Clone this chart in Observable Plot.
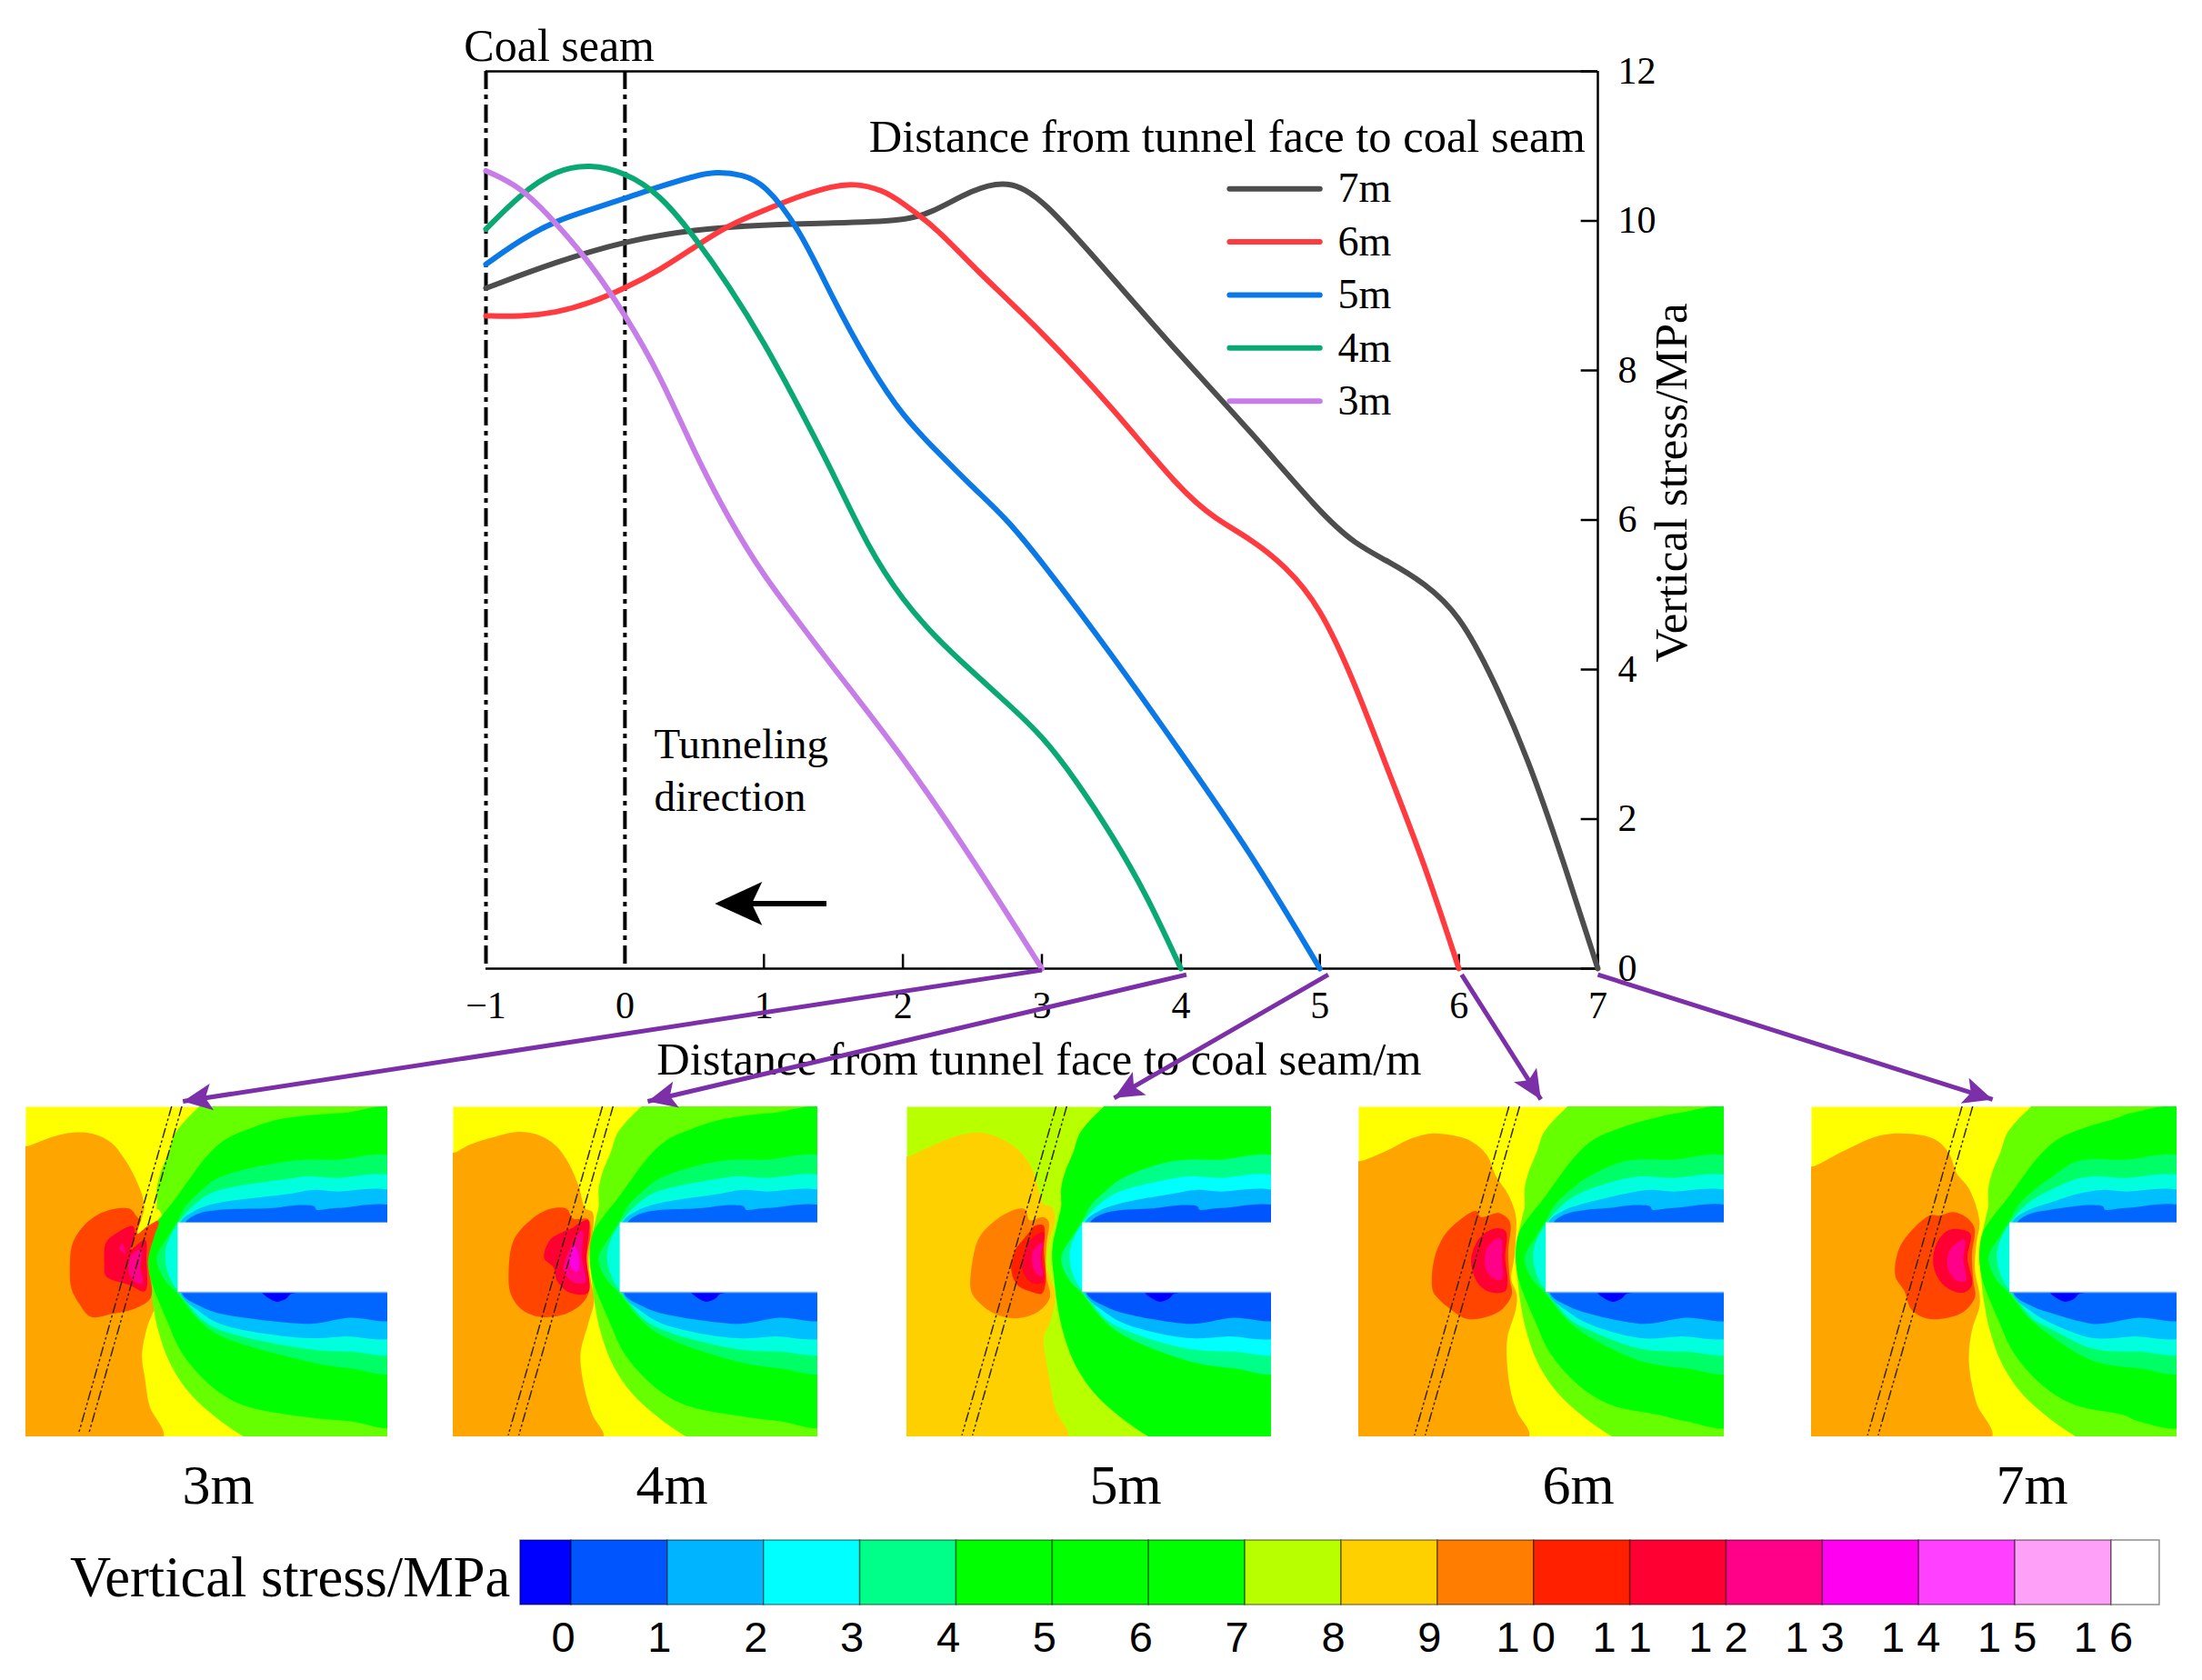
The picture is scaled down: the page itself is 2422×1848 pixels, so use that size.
<!DOCTYPE html>
<html>
<head>
<meta charset="utf-8">
<script src="https://cdn.jsdelivr.net/npm/d3@7"></script>
<script src="https://cdn.jsdelivr.net/npm/@observablehq/plot@0.6"></script>
<style>
  html, body { margin: 0; padding: 0; background: #fff; }
  #page { position: relative; width: 2422px; height: 1848px; overflow: hidden; }
  #page svg { position: absolute; max-width: none; }
  .lab { position: absolute; font-family: "Liberation Serif", serif; color: #000; white-space: nowrap; line-height: 1; }
</style>
</head>
<body>
<div id="page"></div>
<script>
// ---------- line chart values ----------
const seriesNames = ["7m", "6m", "5m", "4m", "3m"];
const seriesColors = ["#4d4d4d", "#ff3b40", "#0a78e6", "#0aa873", "#c77de8"];

const x7 = [-1, -0.5, 0, 0.5, 1, 1.5, 2, 2.2, 2.5, 2.75, 3, 3.5, 4, 4.5, 5, 5.25, 5.5, 5.75, 6, 6.25, 6.5, 6.75, 7];
const y7 = [9.1, 9.45, 9.73, 9.89, 9.95, 9.97, 10.0, 10.1, 10.42, 10.55, 10.32, 9.25, 8.19, 7.19, 6.1, 5.68, 5.44, 5.16, 4.75, 3.87, 2.8, 1.45, 0];
const x6 = [-1, -0.75, -0.5, -0.25, 0, 0.25, 0.5, 0.75, 1, 1.25, 1.5, 1.65, 1.85, 2, 2.25, 2.5, 3, 3.5, 4, 4.25, 4.5, 4.75, 5, 5.25, 5.5, 5.75, 6];
const y6 = [8.73, 8.72, 8.77, 8.9, 9.1, 9.34, 9.65, 9.95, 10.14, 10.33, 10.47, 10.5, 10.42, 10.24, 9.89, 9.39, 8.52, 7.52, 6.39, 6.01, 5.75, 5.39, 4.85, 3.83, 2.6, 1.42, 0];
const x5 = [-1, -0.75, -0.5, -0.25, 0, 0.25, 0.5, 0.65, 0.85, 1, 1.25, 1.5, 1.75, 2, 2.25, 2.5, 2.75, 3, 3.5, 4, 4.5, 5];
const y5 = [9.42, 9.75, 10.0, 10.15, 10.3, 10.46, 10.6, 10.66, 10.62, 10.5, 9.92, 8.94, 8.09, 7.38, 6.91, 6.44, 6.01, 5.44, 4.21, 2.89, 1.56, 0];
const x4 = [-1, -0.75, -0.5, -0.25, 0, 0.25, 0.5, 0.75, 1, 1.25, 1.5, 1.75, 2, 2.25, 2.5, 2.75, 3, 3.25, 3.5, 3.75, 4];
const y4 = [9.89, 10.36, 10.68, 10.76, 10.65, 10.36, 9.79, 9.13, 8.38, 7.52, 6.62, 5.63, 4.92, 4.4, 3.97, 3.55, 3.12, 2.51, 1.8, 1.0, 0];
const x3 = [-1, -0.75, -0.5, -0.25, 0, 0.25, 0.5, 0.75, 1, 1.25, 1.5, 2, 2.5, 3];
const y3 = [10.67, 10.46, 9.98, 9.44, 8.75, 7.95, 6.9, 6.0, 5.25, 4.64, 4.02, 2.84, 1.47, 0];

const xTicks = [-1, 0, 1, 2, 3, 4, 5, 6, 7];
const xTickLabels = ["−1", "0", "1", "2", "3", "4", "5", "6", "7"];
const yTicks = [0, 2, 4, 6, 8, 10, 12];
const seamLines = [-1, 0];

const legendX = [4.35, 5.0];
const legendY = [10.43, 9.72, 9.01, 8.30, 7.59];
const legendLabelX = 5.13;

// arrows from the axis to the contour panels, in chart units
const arrowFromX = [3.0, 4.04, 5.06, 6.02, 7.0];
const arrowFromY = [-0.02, -0.08, -0.08, -0.08, -0.08];
const arrowToX = [-3.18, 0.164, 3.52, 6.59, 9.84];
const arrowToY = [-1.775, -1.775, -1.73, -1.75, -1.75];

// ---------- contour panel values (read in crop pixels of each panel) ----------
// Tunnel-face contours, same shape in every panel, carried along with the tunnel end.
const limeNear = [[660,5],[645,20],[600,65],[565,110],[545,170],[520,230],[505,290],[505,350],[497,385],[480,470],[478,540],[485,620],[490,660],[510,760],[545,860],[600,950],[680,1030],[795,1112],[850,1135]];
const limeFarTop = [[1270,5]];
const limeFarBottom = [[1270,1135]];

const greenFarTop = [[1270,38],[1080,40]];
const greenNear = [[920,60],[820,90],[730,130],[670,185],[620,250],[570,320],[515,390],[485,440],[475,520],[485,590],[510,660],[540,730],[580,820],[640,900],[720,970],[800,1010],[950,1040]];
const greenFarBottom = [[1100,1060],[1270,1068]];

const springFarTop = [[1270,200],[1050,195],[900,200]];
const springNear = [[710,255],[650,300],[600,350],[576,395],[545,445],[505,520],[530,590],[576,640],[630,710],[700,770]];
const springFarBottom = [[950,860],[1100,885],[1270,890]];

const cyanFarTop = [[1270,265],[1050,255],[960,250],[900,258]];
const cyanNear = [[700,300],[640,335],[595,380],[560,430],[535,490],[535,540],[555,600],[590,645],[650,720],[720,760]];
const cyanFarBottom = [[950,820],[1100,830],[1270,825]];

const skyFarTop = [[1270,315],[1050,300],[980,295],[900,308]];
const skyNear = [[700,340],[630,365],[585,400],[578,520],[585,640],[650,700],[720,740]];
const skyFarBottom = [[950,785],[1080,780],[1270,770]];

const blueFarTop = [[1270,362],[1060,355],[990,360],[985,350],[950,345],[900,348],[850,355]];
const blueNear = [[700,362],[640,375],[600,404],[590,520],[590,640],[650,680],[720,705]];
const blueFarBottom = [[950,738],[1000,735],[1100,718],[1270,715]];

const deepBlue = [[810,632],[835,655],[860,665],[890,655],[905,640],[940,632]];

// Panel-specific contours
const orange3 = [[84,180],[130,165],[170,150],[240,135],[310,140],[370,170],[410,220],[440,270],[470,340],[485,395],[525,395],[535,420],[515,450],[505,550],[505,620],[520,680],[515,710],[490,770],[470,870],[480,950],[495,1040],[540,1145],[70,1160],[70,170]];
const flame3 = [[230,590],[240,500],[290,430],[350,395],[430,388],[460,420],[500,425],[525,430],[510,480],[490,560],[500,680],[440,720],[370,735],[300,745],[260,700],[235,650]];
const red3 = [[345,570],[350,500],[390,465],[440,445],[445,490],[430,525],[480,490],[485,560],[480,660],[430,640],[350,610]];
const pink3 = [[425,590],[435,540],[468,522],[465,580],[472,635],[440,625]];
const spot3 = [[395,520],[405,503],[415,535]];
const strip3 = [[490,340],[475,400],[455,470],[488,445],[520,425],[535,410],[522,388],[510,390],[515,340]];
const seam3 = [[[568,50],[258,1135]], [[602,50],[292,1135]]];

const orange4 = [[25,172],[80,145],[160,120],[240,103],[310,115],[365,150],[405,205],[440,285],[460,355],[485,370],[485,440],[472,520],[480,600],[490,660],[470,740],[445,840],[460,960],[485,1040],[520,1116],[10,1130],[10,165]];
const flame4 = [[208,560],[225,460],[280,395],[345,358],[400,358],[420,390],[470,392],[478,440],[465,520],[470,640],[440,680],[380,710],[310,715],[250,690],[215,640]];
const red4 = [[325,520],[345,460],[385,435],[420,420],[450,400],[470,395],[465,520],[470,635],[410,635],[370,600],[355,550]];
const pink4 = [[390,560],[410,490],[450,430],[450,520],[460,600],[420,600]];
const magenta4 = [[408,530],[425,480],[440,520],[435,565],[420,560]];
const seam4 = [[[517,20],[207,1105]], [[552,20],[242,1105]]];

const orange5 = [[20,185],[100,150],[190,115],[260,105],[330,125],[390,165],[430,220],[450,280],[470,340],[500,355],[508,400],[490,460],[480,540],[495,590],[510,640],[490,740],[472,780],[490,920],[510,1020],[550,1116],[5,1130],[5,180]];
const flame5 = [[232,630],[235,540],[260,450],[320,390],[385,358],[410,360],[425,395],[470,385],[488,400],[480,480],[480,580],[492,650],[450,700],[380,720],[310,705],[260,670]];
const red5 = [[365,565],[375,500],[420,440],[440,415],[470,412],[472,500],[478,600],[465,638],[425,630],[385,610]];
const pink5 = [[400,540],[420,470],[470,435],[465,520],[470,600],[440,605],[410,580]];
const magenta5 = [[432,520],[445,485],[468,470],[462,520],[468,580],[445,570]];
const seam5 = [[[512,20],[202,1105]], [[547,20],[237,1105]]];

const orange6 = [[28,200],[120,165],[200,125],[270,108],[340,115],[400,135],[450,180],[480,250],[520,310],[545,380],[545,450],[540,520],[530,590],[548,640],[545,690],[518,780],[515,850],[530,970],[550,1030],[588,1112],[12,1125],[12,195]];
const flame6 = [[272,630],[275,530],[310,445],[360,395],[415,365],[430,385],[490,372],[525,400],[520,500],[525,590],[532,640],[500,690],[450,715],[385,722],[330,690],[290,655]];
const red6 = [[398,540],[410,480],[440,440],[480,422],[512,432],[510,520],[518,600],[510,630],[470,635],[425,610]];
const pink6 = [[442,525],[455,480],[490,455],[498,460],[500,530],[500,590],[475,590],[450,565]];
const seam6 = [[[522,20],[212,1105]], [[557,20],[247,1105]]];

const orange7 = [[22,218],[120,170],[230,120],[300,108],[390,115],[440,135],[475,175],[500,240],[540,290],[575,400],[565,470],[560,560],[575,640],[575,680],[550,760],[540,860],[565,1000],[615,1114],[5,1130],[5,212]];
const flame7 = [[298,580],[310,490],[360,420],[415,378],[440,380],[490,368],[530,385],[558,420],[550,510],[555,600],[560,650],[520,700],[460,720],[400,720],[350,690],[328,630]];
const red7 = [[422,530],[435,470],[470,430],[510,425],[545,440],[535,520],[550,610],[520,635],[470,620],[435,580]];
const pink7 = [[468,535],[480,490],[525,460],[522,530],[530,595],[500,595],[475,565]];
const seam7 = [[[517,20],[207,1105]], [[552,20],[242,1105]]];

const panelLabels = ["3m", "4m", "5m", "6m", "7m"];

// ---------- colour bar values ----------
const barEdges = [-0.53, 0, 1, 2, 3, 4, 5, 6, 7, 8, 9, 10, 11, 12, 13, 14, 15, 16, 16.5];
const barColors = ["#0000ff", "#0055ff", "#00b4ff", "#00ffff", "#00ff88", "#00ff00", "#00ff00", "#00ff00", "#b8ff00", "#ffd000", "#ff7d00", "#ff2000", "#ff0033", "#ff0088", "#ff00f0", "#ff40ff", "#ffa0f8", "#ffffff"];
const barTicks = [0, 1, 2, 3, 4, 5, 6, 7, 8, 9, 10, 11, 12, 13, 14, 15, 16];
const barTickLabels = ["0", "1", "2", "3", "4", "5", "6", "7", "8", "9", "1 0", "1 1", "1 2", "1 3", "1 4", "1 5", "1 6"];

// ---------- layout and styles ----------
const page = document.getElementById("page");
const serif = "Liberation Serif";
const sans = "Liberation Sans";
const purple = "#7b2fa8";

const frame = {left: 534, right: 1757, top: 78, bottom: 1065};
const pxPerX = (frame.right - frame.left) / 8;
const pxPerY = (frame.bottom - frame.top) / 12;

const paletteNormal = {base: "#ffff00", lime: "#66ff00", green: "#00ff00", spring: "#00ff66", cyan: "#00ffdd", sky: "#00bfff", blue: "#0066ff", deep: "#0000ff",
  orange: "#ffa500", flame: "#ff4500", red: "#ff0033", pink: "#ff0088", hot: "#ff00e0"};
const paletteFive = {base: "#b8ff00", lime: "#00ff00", green: "#00ff00", spring: "#00ff88", cyan: "#00ffff", sky: "#00b4ff", blue: "#0055ff", deep: "#0000ff",
  orange: "#ffd000", flame: "#ff8000", red: "#ff2000", pink: "#ff0033", hot: "#ff0088"};

const panels = [
  {left: 28, top: 1217, w: 398, h: 363, ox: 84, oy: 50, hole: 506, palette: paletteNormal, shapes: [[orange3, "orange"], [flame3, "flame"], [strip3, "base"], [red3, "red"], [pink3, "pink"], [spot3, "pink"]], seam: seam3},
  {left: 498, top: 1217, w: 401, h: 363, ox: 25, oy: 20, hole: 551, palette: paletteNormal, shapes: [[orange4, "orange"], [flame4, "flame"], [red4, "red"], [pink4, "pink"], [magenta4, "hot"]], seam: seam4},
  {left: 997, top: 1217, w: 401, h: 363, ox: 20, oy: 20, hole: 580, palette: paletteFive, shapes: [[orange5, "orange"], [flame5, "flame"], [red5, "red"], [pink5, "pink"], [magenta5, "hot"]], seam: seam5},
  {left: 1494, top: 1217, w: 402, h: 363, ox: 28, oy: 20, hole: 617, palette: paletteNormal, shapes: [[orange6, "orange"], [flame6, "flame"], [red6, "red"], [pink6, "pink"]], seam: seam6},
  {left: 1992, top: 1217, w: 402, h: 363, ox: 22, oy: 20, hole: 653, palette: paletteNormal, shapes: [[orange7, "orange"], [flame7, "flame"], [red7, "red"], [pink7, "pink"]], seam: seam7}
];
const panelLabelX = [240, 739, 1238, 1736, 2235];

// ---------- contour panels ----------
const baseOx = 25, baseOy = 20, baseHole = 576;
const shift = (pts, dx, dy) => pts.map(([a, b]) => [a + dx, b + dy]);
const fillShape = (pts, color) => Plot.line(pts, {x: d => d[0], y: d => d[1], fill: color, stroke: "none", curve: "catmull-rom-closed", clip: true});

panels.forEach((p, i) => {
  const near = pts => shift(pts, p.hole - baseHole, -baseOy);
  const far = pts => shift(pts, -baseOx, -baseOy);
  const band = (top, mid, bottom) => [...far(top), ...near(mid), ...far(bottom)];
  const c = p.palette;
  const marks = [
    Plot.frame({fill: c.base, stroke: "none"}),
    ...p.shapes.filter(s => s[1] === "orange").map(s => fillShape(shift(s[0], -p.ox, -p.oy), c.orange)),
    fillShape(band(limeFarTop, limeNear, limeFarBottom), c.lime),
    fillShape(band(greenFarTop, greenNear, greenFarBottom), c.green),
    fillShape(band(springFarTop, springNear, springFarBottom), c.spring),
    fillShape(band(cyanFarTop, cyanNear, cyanFarBottom), c.cyan),
    fillShape(band(skyFarTop, skyNear, skyFarBottom), c.sky),
    fillShape(band(blueFarTop, blueNear, blueFarBottom), c.blue),
    fillShape(far(deepBlue), c.deep),
    Plot.rect([{x1: p.hole, x2: 1203, y1: 384, y2: 614}], {x1: "x1", x2: "x2", y1: "y1", y2: "y2", fill: "#ffffff"}),
    Plot.ruleY([614], {x1: p.hole, x2: 1203, stroke: "#7fb4ff", strokeWidth: 1.5}),
    ...p.shapes.filter(s => s[1] !== "orange").map(s => fillShape(shift(s[0], -p.ox, -p.oy), c[s[1]])),
    ...p.seam.map(s => Plot.line(shift(s, -p.ox, -p.oy), {x: d => d[0], y: d => d[1], stroke: "#33250f", strokeWidth: 1.5, strokeDasharray: "10 4 1.5 4 1.5 4", clip: true}))
  ];
  const svg = Plot.plot({
    width: p.w, height: p.h, margin: 0,
    x: {domain: [0, 1203], axis: null},
    y: {domain: [1092, 0], axis: null},
    style: {background: "transparent"},
    marks
  });
  svg.style.left = p.left + "px";
  svg.style.top = p.top + "px";
  page.appendChild(svg);

  const lab = document.createElement("div");
  lab.className = "lab";
  lab.textContent = panelLabels[i];
  lab.style.fontSize = "62px";
  lab.style.left = panelLabelX[i] + "px";
  lab.style.top = "1633px";
  lab.style.transform = "translate(-50%,-50%)";
  page.appendChild(lab);
});

// ---------- colour bar ----------
const barCells = barColors.map((color, i) => ({x1: barEdges[i], x2: barEdges[i + 1], color}));
const barSvg = Plot.plot({
  width: 2422, height: 168,
  marginLeft: 628, marginRight: 2422 - 2322, marginTop: 14, marginBottom: 83,
  x: {domain: [0, 16]},
  y: {domain: [0, 1], axis: null},
  color: {type: "identity"},
  style: {background: "transparent", fontFamily: sans},
  marks: [
    Plot.rect(barCells, {x1: "x1", x2: "x2", y1: 0, y2: 1, fill: "color", stroke: "#000", strokeOpacity: 0.45, strokeWidth: 1.5}),
    Plot.axisX({ticks: barTicks, tickSize: 0, tickPadding: 18, label: null, dx: -9, fontSize: 47, fontFamily: sans, fill: "#000", tickFormat: (d, i) => barTickLabels[i]})
  ]
});
barSvg.style.left = "0px";
barSvg.style.top = "1680px";
page.appendChild(barSvg);

const barTitle = document.createElement("div");
barTitle.className = "lab";
barTitle.textContent = "Vertical stress/MPa";
barTitle.style.fontSize = "62.5px";
barTitle.style.left = "77px";
barTitle.style.top = "1735px";
barTitle.style.transform = "translateY(-50%)";
page.appendChild(barTitle);

// ---------- main chart (top layer, so the arrows reach the panels) ----------
const curveRows = [[x7, y7], [x6, y6], [x5, y5], [x4, y4], [x3, y3]].flatMap(([xs, ys], k) => xs.map((x, i) => ({x, y: ys[i], series: seriesNames[k]})));
const legendRows = seriesNames.flatMap((series, k) => legendX.map(x => ({x, y: legendY[k], series})));
const legendLabels = seriesNames.map((series, k) => ({x: legendLabelX, y: legendY[k], series}));
const arrows = arrowFromX.map((x1, i) => ({x1, y1: arrowFromY[i], x2: arrowToX[i], y2: arrowToY[i]}));
const headRotate = d => Math.atan2((d.x2 - d.x1) * pxPerX, (d.y2 - d.y1) * pxPerY) * 180 / Math.PI;
const headShape = {draw(ctx, l) {
  const w = l * 0.46;
  ctx.moveTo(0, -l); ctx.lineTo(w, 0); ctx.lineTo(0, -l * 0.22); ctx.lineTo(-w, 0); ctx.closePath();
}};
const black = [{x1: 1.45, y1: 0.87, x2: 0.647, y2: 0.87}];
const textStyle = {fontFamily: serif, fill: "#000"};

const main = Plot.plot({
  width: 2422, height: 1848,
  marginLeft: frame.left, marginRight: 2422 - frame.right, marginTop: frame.top, marginBottom: 1848 - frame.bottom,
  x: {domain: [-1, 7]},
  y: {domain: [0, 12]},
  color: {domain: seriesNames, range: seriesColors},
  style: {background: "transparent", fontFamily: serif},
  marks: [
    Plot.ruleY([0, 12], {stroke: "#000", strokeWidth: 2.5}),
    Plot.ruleX([7], {stroke: "#000", strokeWidth: 2.5}),
    Plot.ruleX(seamLines, {stroke: "#000", strokeWidth: 4, strokeDasharray: "20 6 5 6"}),
    Plot.ruleX(xTicks.slice(2), {y1: 0, y2: 0.19, stroke: "#000", strokeWidth: 2.5}),
    Plot.ruleY(yTicks, {x1: 7, x2: 6.88, stroke: "#000", strokeWidth: 2.5}),
    Plot.axisX({ticks: xTicks, tickSize: 0, tickPadding: 25, label: null, fontSize: 42, fontFamily: serif, fill: "#000", tickFormat: (d, i) => xTickLabels[i]}),
    Plot.axisY({anchor: "right", ticks: yTicks, tickSize: 0, tickPadding: 22, label: null, fontSize: 42, fontFamily: serif, fill: "#000"}),
    Plot.line(curveRows, {x: "x", y: "y", z: "series", stroke: "series", strokeWidth: 6, curve: "basis"}),
    Plot.line(legendRows, {x: "x", y: "y", z: "series", stroke: "series", strokeWidth: 6}),
    Plot.text(legendLabels, {x: "x", y: "y", text: "series", textAnchor: "start", fontSize: 46, ...textStyle}),
    Plot.text(["Coal seam"], {x: -1.158, y: 12.34, textAnchor: "start", fontSize: 50, ...textStyle}),
    Plot.text(["Distance from tunnel face to coal seam"], {x: 6.91, y: 11.12, textAnchor: "end", fontSize: 50.5, ...textStyle}),
    Plot.text(["Tunneling"], {x: 0.21, y: 3.0, textAnchor: "start", fontSize: 47, ...textStyle}),
    Plot.text(["direction"], {x: 0.21, y: 2.29, textAnchor: "start", fontSize: 47, ...textStyle}),
    Plot.text(["Vertical stress/MPa"], {x: 7.53, y: 6.5, rotate: -90, fontSize: 51, ...textStyle}),
    Plot.text(["Distance from tunnel face to coal seam/m"], {x: 2.98, y: -1.216, fontSize: 50.5, ...textStyle}),
    Plot.link(black, {x1: "x1", y1: "y1", x2: d => d.x2 + 0.1, y2: "y2", stroke: "#000", strokeWidth: 6}),
    Plot.vector(black, {x: "x2", y: "y2", rotate: headRotate, length: 52, anchor: "end", shape: headShape, fill: "#000", stroke: "none"}),
    Plot.link(arrows, {x1: "x1", y1: "y1", x2: "x2", y2: "y2", stroke: purple, strokeWidth: 5}),
    Plot.vector(arrows, {x: "x2", y: "y2", rotate: headRotate, length: 32, anchor: "end", shape: headShape, fill: purple, stroke: "none"})
  ]
});
main.style.left = "0px";
main.style.top = "0px";
page.appendChild(main);
</script>
</body>
</html>
